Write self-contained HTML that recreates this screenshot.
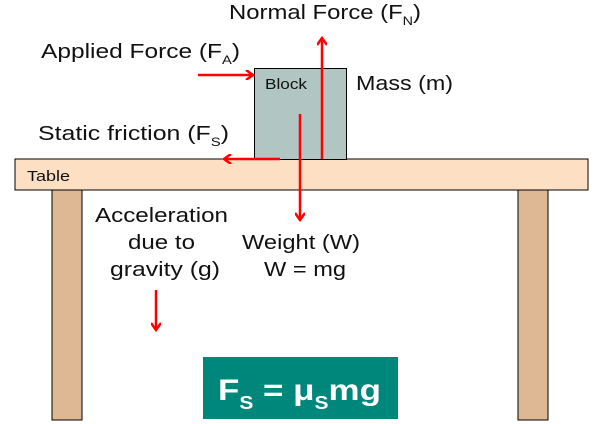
<!DOCTYPE html>
<html><head><style>
body{margin:0;width:600px;height:424px;background:#fff;overflow:hidden;position:relative;font-family:"Liberation Sans",Arial,sans-serif}
</style></head><body>
<svg width="600" height="424" style="position:absolute;left:0;top:0" font-family="Liberation Sans, Arial, sans-serif">
<defs><marker id="a" markerWidth="10" markerHeight="10" refX="8" refY="5" orient="auto" markerUnits="userSpaceOnUse"><path d="M1,0 L8,5 L1,10" fill="none" stroke="#f00" stroke-width="2.5"/></marker></defs>
<rect x="52" y="189" width="30" height="231" fill="#deb892" stroke="#000" stroke-width="1"/>
<rect x="518" y="189" width="30" height="231" fill="#deb892" stroke="#000" stroke-width="1"/>
<rect x="15" y="159" width="573" height="31" fill="#fde0c4" stroke="#000" stroke-width="1"/>
<text x="27" y="181" font-size="15" fill="#111" textLength="43" lengthAdjust="spacingAndGlyphs">Table</text>
<rect x="254.5" y="68.5" width="92" height="91" fill="#b1c5c2" stroke="#000" stroke-width="1"/>
<text x="265" y="89" font-size="15" fill="#111" textLength="42" lengthAdjust="spacingAndGlyphs">Block</text>
<g stroke="#f00" stroke-width="2.5" fill="none" marker-end="url(#a)">
<line x1="322" y1="159" x2="322" y2="38"/>
<line x1="198" y1="75" x2="253" y2="75"/>
<line x1="280" y1="159" x2="224" y2="159"/>
<line x1="300" y1="114" x2="300" y2="220"/>
<line x1="156" y1="290" x2="156" y2="330"/>
</g>
<g font-size="20" fill="#111" lengthAdjust="spacingAndGlyphs">
<text x="229" y="19" textLength="192" lengthAdjust="spacingAndGlyphs">Normal Force (F<tspan font-size="12" dy="6">N</tspan><tspan dy="-6">)</tspan></text>
<text x="41" y="58" textLength="199" lengthAdjust="spacingAndGlyphs">Applied Force (F<tspan font-size="12" dy="6">A</tspan><tspan dy="-6">)</tspan></text>
<text x="356" y="90" textLength="97" lengthAdjust="spacingAndGlyphs">Mass (m)</text>
<text x="38" y="140" textLength="191" lengthAdjust="spacingAndGlyphs">Static friction (F<tspan font-size="12" dy="6">S</tspan><tspan dy="-6">)</tspan></text>
<text x="95" y="222" textLength="133" lengthAdjust="spacingAndGlyphs">Acceleration</text>
<text x="128" y="249" textLength="67" lengthAdjust="spacingAndGlyphs">due to</text>
<text x="110" y="276" textLength="110" lengthAdjust="spacingAndGlyphs">gravity (g)</text>
<text x="242" y="249" textLength="118" lengthAdjust="spacingAndGlyphs">Weight (W)</text>
<text x="264" y="276" textLength="82" lengthAdjust="spacingAndGlyphs">W = mg</text>
</g>
<rect x="203" y="357" width="195" height="62" fill="#00877b"/>
<text x="218" y="400" font-size="30" font-weight="bold" fill="#fff" textLength="163" lengthAdjust="spacingAndGlyphs">F<tspan font-size="18" dy="9">S</tspan><tspan dy="-9"> = μ</tspan><tspan font-size="18" dy="9">S</tspan><tspan dy="-9">mg</tspan></text>
</svg>
</body></html>
